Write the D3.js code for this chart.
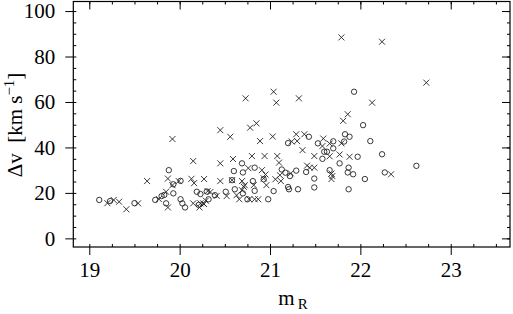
<!DOCTYPE html>
<html>
<head>
<meta charset="utf-8">
<script src="https://cdn.jsdelivr.net/npm/d3@7"></script>
<style>
  body { margin: 0; background: #fff; }
</style>
</head>
<body>
<div class="chart"></div>
<script>
/* data: m_R and delta v (km/s) */
var crossMag = [19.20,19.27,19.33,19.41,19.54,19.64,19.77,19.85,19.87,19.92,19.92,19.87,19.99,20.15,20.13,20.16,20.27,20.23,20.29,20.34,20.27,
  20.45,20.56,20.45,20.59,20.45,20.58,20.69,20.72,20.73,20.78,20.85,20.89,21.03,21.04,21.07,21.32,21.29,21.38,21.24,21.30,21.36,
  21.59,21.58,21.66,21.79,21.79,21.81,21.86,22.13,22.24,22.73,22.34,21.77,21.88,21.66,20.80,20.94,21.08,21.10,21.49,20.76,20.91,
  20.95,20.93,21.41,21.44,21.49,21.06,21.12,21.11,21.23,20.82,20.96,21.68,21.69,21.68,20.31,20.41,20.52,20.63,20.71,20.69,20.66,
  20.83,20.87,20.77,20.15,20.22,20.26];
var crossDv = [15.5,16.9,16.1,12.8,15.4,25.2,17.3,20.5,26.3,43.7,23.4,13.6,25.2,34.0,26.2,24.3,26.1,15.4,16.6,20.4,15.1,
  47.6,44.7,33.0,34.9,25.2,25.6,25.2,23.4,61.6,48.7,50.6,42.8,44.8,64.5,59.7,61.6,45.8,45.8,42.6,42.8,38.8,
  43.9,40.6,41.7,41.8,88.4,51.7,54.6,59.7,86.5,68.5,28.2,36.9,35.9,36.1,36.2,36.2,36.2,33.3,36.2,30.9,30.0,
  28.1,26.4,32.0,31.1,31.1,26.0,25.2,27.8,28.6,23.4,23.4,28.5,27.4,26.1,20.8,18.7,18.6,19.0,22.7,21.2,17.2,
  17.2,17.2,17.2,15.4,13.6,15.4];

var circleMag = [19.11,19.23,19.50,19.73,19.80,19.83,19.88,19.93,19.85,20.01,20.01,20.03,20.06,20.19,20.23,20.21,20.30,20.32,20.39,
  20.51,20.60,20.61,20.69,20.70,20.58,20.70,20.75,20.81,20.83,20.83,20.93,20.98,21.04,21.13,21.17,21.22,21.29,21.20,21.21,21.31,
  21.20,21.43,21.40,21.49,21.49,21.53,21.58,21.60,21.63,21.70,21.70,21.66,21.77,21.82,21.83,21.88,21.87,21.86,21.92,21.97,21.87,
  21.93,22.03,22.11,22.05,22.24,22.27,22.62,19.93];
var circleDv = [16.9,16.4,15.5,16.9,18.6,19.1,30.0,19.8,15.4,25.3,17.2,15.4,13.6,20.5,19.5,14.7,20.6,17.2,19.0,
  20.5,29.6,21.6,33.0,29.0,25.6,19.8,17.2,25.2,31.1,20.9,26.0,17.2,20.8,30.3,28.9,27.4,29.8,22.6,21.6,21.6,
  41.9,44.7,29.2,26.3,22.4,41.8,35.0,38.1,38.1,42.7,39.6,30.0,33.0,42.6,45.8,44.7,31.1,29.0,28.2,35.9,21.6,
  64.5,49.8,42.8,26.1,37.0,29.0,31.9,23.8];

var xTicks = [19, 20, 21, 22, 23];
var yTicks = [0, 20, 40, 60, 80, 100];

var FONT = "Liberation Serif, Times New Roman, Times, DejaVu Serif, serif";

/*dimensions*/
var width = 513, height = 314;
var box = {left: 73.3, right: 510, top: 1.5, bottom: 247};

var xScale = d3.scaleLinear().domain([18.823, 23.656]).range([box.left, box.right]);
var yScale = d3.scaleLinear().domain([-3.8, 104.2]).range([box.bottom, box.top]);

var xMinor = d3.range(19, 23.66, 0.25);
var yMinor = d3.range(0, 104, 5);

var svg = d3.select(".chart").append("svg")
  .attr("width", width)
  .attr("height", height)
  .attr("font-family", FONT);

// axes: major ticks out on left/bottom, in on top/right, minor ticks inside
function styleAxis(g) {
  g.attr("font-family", FONT).attr("font-size", 21);
  g.select(".domain").remove();
  g.selectAll("line").attr("stroke", "#000").attr("stroke-width", 1);
  g.selectAll("text").attr("font-family", FONT).attr("fill", "#000");
}

svg.append("g")
  .attr("transform", "translate(0," + box.bottom + ")")
  .call(d3.axisBottom(xScale).tickValues(xTicks).tickFormat(d3.format("d")).tickSize(8).tickSizeOuter(0).tickPadding(7))
  .call(styleAxis);
svg.append("g")
  .attr("transform", "translate(0," + box.bottom + ")")
  .call(d3.axisBottom(xScale).tickValues(xMinor).tickFormat("").tickSize(-3).tickSizeOuter(0))
  .call(styleAxis);
svg.append("g")
  .attr("transform", "translate(0," + box.top + ")")
  .call(d3.axisTop(xScale).tickValues(xTicks).tickFormat("").tickSize(-8).tickSizeOuter(0))
  .call(styleAxis);
svg.append("g")
  .attr("transform", "translate(0," + box.top + ")")
  .call(d3.axisTop(xScale).tickValues(xMinor).tickFormat("").tickSize(-3).tickSizeOuter(0))
  .call(styleAxis);

svg.append("g")
  .attr("transform", "translate(" + box.left + ",0)")
  .call(d3.axisLeft(yScale).tickValues(yTicks).tickFormat(d3.format("d")).tickSize(8).tickSizeOuter(0).tickPadding(10))
  .call(styleAxis);
svg.append("g")
  .attr("transform", "translate(" + box.left + ",0)")
  .call(d3.axisLeft(yScale).tickValues(yMinor).tickFormat("").tickSize(-3).tickSizeOuter(0))
  .call(styleAxis);
svg.append("g")
  .attr("transform", "translate(" + box.right + ",0)")
  .call(d3.axisRight(yScale).tickValues(yTicks).tickFormat("").tickSize(-8).tickSizeOuter(0))
  .call(styleAxis);
svg.append("g")
  .attr("transform", "translate(" + box.right + ",0)")
  .call(d3.axisRight(yScale).tickValues(yMinor).tickFormat("").tickSize(-3).tickSizeOuter(0))
  .call(styleAxis);

// frame
svg.append("rect")
  .attr("x", box.left).attr("y", box.top)
  .attr("width", box.right - box.left).attr("height", box.bottom - box.top)
  .attr("fill", "none").attr("stroke", "#000").attr("stroke-width", 1.2);

// points
var crosses = crossMag.map(function(m, i){ return {m: m, v: crossDv[i]}; });
var circles = circleMag.map(function(m, i){ return {m: m, v: circleDv[i]}; });

svg.append("g").selectAll("circle")
  .data(circles)
  .enter().append("circle")
  .attr("cx", function(d){ return xScale(d.m); })
  .attr("cy", function(d){ return yScale(d.v); })
  .attr("r", 2.7)
  .attr("fill", "none")
  .attr("stroke", "#222")
  .attr("stroke-width", 0.9);

var s = 3;
svg.append("g").selectAll("path")
  .data(crosses)
  .enter().append("path")
  .attr("d", function(d){
    var x = xScale(d.m), y = yScale(d.v);
    return "M" + (x - s) + "," + (y - s) + " L" + (x + s) + "," + (y + s) +
           " M" + (x - s) + "," + (y + s) + " L" + (x + s) + "," + (y - s);
  })
  .attr("stroke", "#222")
  .attr("stroke-width", 0.9)
  .attr("fill", "none");

// labels
var xl = svg.append("text")
  .attr("x", 293).attr("y", 305)
  .attr("text-anchor", "middle")
  .attr("font-family", FONT)
  .attr("font-size", 21);
xl.append("tspan").text("m");
xl.append("tspan").attr("dx", 3).attr("dy", 4).attr("font-size", 15).text("R");

var yl = svg.append("text")
  .attr("transform", "translate(22,125) rotate(-90)")
  .attr("text-anchor", "middle")
  .attr("font-family", FONT)
  .attr("font-size", 21);
yl.append("tspan").text("\u0394v\u00a0\u00a0[km s");
yl.append("tspan").attr("dy", -8).attr("font-size", 15).text("\u22121");
yl.append("tspan").attr("dy", 8).text("]");
</script>
</body>
</html>
